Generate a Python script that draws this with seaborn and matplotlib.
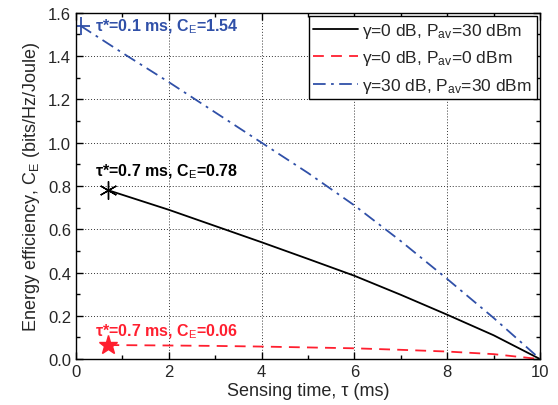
import numpy as np
import pandas as pd
import matplotlib
matplotlib.use("Agg")
import matplotlib.pyplot as plt
import seaborn as sns
from matplotlib.ticker import MultipleLocator

sns.set_style("ticks")
plt.rcParams['font.family'] = ['Liberation Sans', 'DejaVu Sans']
plt.rcParams['mathtext.fontset'] = 'custom'
plt.rcParams['mathtext.rm'] = 'Liberation Sans'
plt.rcParams['mathtext.it'] = 'Liberation Sans:italic'
plt.rcParams['mathtext.bf'] = 'Liberation Sans:bold'

# Data
tau_black = [0.7, 2, 3, 4, 5, 6, 7, 8, 9, 10]
ce_black = [0.78, 0.69, 0.615, 0.54, 0.463, 0.385, 0.297, 0.205, 0.11, 0.0]
tau_red = [0.7, 2, 3, 4, 5, 6, 7, 8, 9, 10]
ce_red = [0.065, 0.063, 0.061, 0.058, 0.054, 0.05, 0.043, 0.035, 0.023, 0.0]
tau_blue = [0.1, 1, 2, 3, 4, 5, 6, 7, 8, 9, 10]
ce_blue = [1.54, 1.415, 1.28, 1.14, 1.0, 0.86, 0.71, 0.545, 0.37, 0.19, 0.0]

labels = ["γ=0 dB, P$_{\\rm av}$=30 dBm",
          "γ=0 dB, P$_{\\rm av}$=0 dBm",
          "γ=30 dB, P$_{\\rm av}$=30 dBm"]
colors = ["#000000", "#ff1f2f", "#3050a8"]

opt_tau = [0.7, 0.7, 0.1]
opt_ce = [0.78, 0.065, 1.54]
annot = ["τ*=0.7 ms, C$_{\\rm E}$=0.78",
         "τ*=0.7 ms, C$_{\\rm E}$=0.06",
         "τ*=0.1 ms, C$_{\\rm E}$=1.54"]

fig = plt.figure(figsize=(5.58, 4.06), dpi=100)
ax = fig.add_axes([0.136, 0.113, 0.832, 0.853])

df0 = pd.DataFrame({"tau": tau_black, "ce": ce_black})
df1 = pd.DataFrame({"tau": tau_red, "ce": ce_red})
df2 = pd.DataFrame({"tau": tau_blue, "ce": ce_blue})

sns.lineplot(data=df0, x="tau", y="ce", ax=ax, color=colors[0], lw=1.3, label=labels[0])
sns.lineplot(data=df1, x="tau", y="ce", ax=ax, color=colors[1], lw=1.3, label=labels[1])
ax.lines[-1].set_dashes([6, 4])
sns.lineplot(data=df2, x="tau", y="ce", ax=ax, color=colors[2], lw=1.3, label=labels[2])
ax.lines[-1].set_dashes([7, 3, 1.5, 3])

# optimum markers
ax.plot([opt_tau[0]], [opt_ce[0]], marker=(6, 2, 0), ms=13, color=colors[0], mew=1.0, ls='none')
ax.plot([opt_tau[1]], [opt_ce[1]], marker='*', ms=14, color=colors[1], ls='none')
ax.plot([opt_tau[2]], [opt_ce[2]], marker='+', ms=13, color=colors[2], mew=1.3, ls='none')

ax.text(0.42, 0.87, annot[0], color=colors[0], fontsize=11.5,
        fontweight='bold', va='center', ha='left')
ax.text(0.42, 0.13, annot[1], color=colors[1], fontsize=11.5,
        fontweight='bold', va='center', ha='left')
ax.text(0.42, 1.54, annot[2], color=colors[2], fontsize=11.5,
        fontweight='bold', va='center', ha='left')

ax.set_xlim(0, 10)
ax.set_ylim(0, 1.6)
ax.xaxis.set_major_locator(MultipleLocator(2))
ax.xaxis.set_minor_locator(MultipleLocator(1))
ax.yaxis.set_major_locator(MultipleLocator(0.2))
ax.yaxis.set_minor_locator(MultipleLocator(0.1))
ax.yaxis.set_major_formatter(matplotlib.ticker.FormatStrFormatter('%.1f'))
ax.tick_params(which='both', direction='in', top=True, right=True, labelsize=12,
               width=1.0, color='black')
ax.tick_params(which='major', length=5)
ax.tick_params(which='minor', length=3)
ax.grid(True, which='major', ls=(0, (1, 2)), color='#333333', lw=0.7)
for s in ax.spines.values():
    s.set_visible(True)
    s.set_color('black')
    s.set_linewidth(1.0)

ax.set_xlabel("Sensing time, τ (ms)", fontsize=13, labelpad=2)
ax.set_ylabel("Energy efficiency, C$_{\\rm E}$ (bits/Hz/Joule)", fontsize=13, labelpad=4)

leg = ax.legend(loc='upper right', fontsize=12.5, frameon=True, fancybox=False,
                edgecolor='black', framealpha=1, borderaxespad=0.2, handlelength=2.6,
                handletextpad=0.25, borderpad=0.25, labelspacing=0.5)
leg.get_frame().set_linewidth(1.0)

fig.savefig("out.png", dpi=100)
